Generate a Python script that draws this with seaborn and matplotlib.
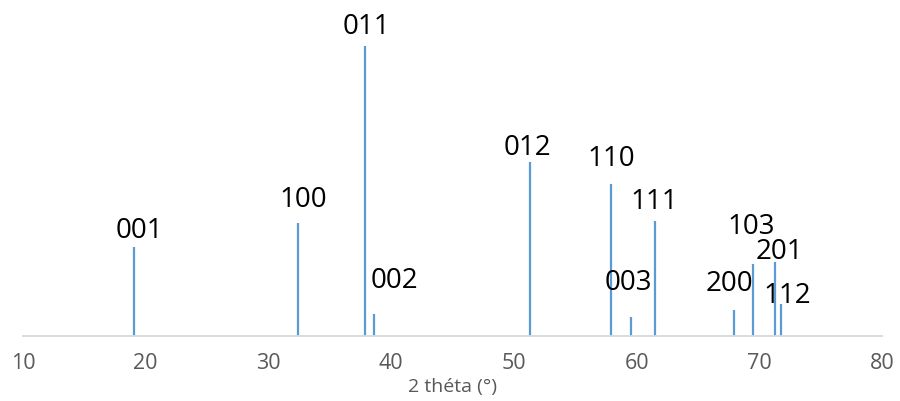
import pandas as pd
import seaborn as sns
import matplotlib.pyplot as plt

# peak positions (2 theta) and relative intensities
hkl = ['001', '100', '011', '002', '012', '110', '003', '111', '200', '103', '201', '112']
two_theta = [19.05, 32.45, 37.88, 38.6, 51.32, 57.9, 59.55, 61.53, 67.92, 69.5, 71.31, 71.78]
intensity = [30.7, 39.0, 100.0, 7.6, 60.0, 52.4, 6.4, 39.6, 9.0, 25.0, 25.5, 11.2]
x_ticks = [10, 20, 30, 40, 50, 60, 70, 80]

# label nudges in pixels (dx, gap above line top)
label_offsets = {
    '001': (5, 9), '100': (5, 16), '011': (1, 12), '002': (20, 26),
    '012': (-3, 7), '110': (0, 18), '003': (-3, 27), '111': (-1, 12),
    '200': (-4, 19), '103': (-2, 30), '201': (4, 3), '112': (6, 1),
}

df = pd.DataFrame({'hkl': hkl, 'two_theta': two_theta, 'intensity': intensity})

sns.set_theme(style='white')
plt.rcParams['font.family'] = ['Open Sans', 'DejaVu Sans']

fig = plt.figure(figsize=(9, 4.01), dpi=100)
ax = fig.add_axes([23 / 900, 65 / 401, 859 / 900, 336 / 401])

ax.vlines(df['two_theta'], 0, df['intensity'], color='#5B9BD5', linewidth=1.6)

for _, row in df.iterrows():
    dx, dy = label_offsets[row['hkl']]
    ax.annotate(row['hkl'], (row['two_theta'], row['intensity']),
                xytext=(dx, dy), textcoords='offset pixels',
                ha='center', va='baseline', fontsize=20, color='black',
                annotation_clip=False)

ax.set_xlim(10, 80)
ax.set_ylim(0, 115.9)
ax.set_xticks(x_ticks)
ax.set_yticks([])
ax.tick_params(axis='x', length=0, pad=12, labelsize=15.5, labelcolor='#595959')
ax.set_xlabel('2 théta (°)', fontsize=14, color='#595959', labelpad=3)

sns.despine(ax=ax, left=True)
ax.spines['bottom'].set_color('#D9D9D9')
ax.spines['bottom'].set_linewidth(1.3)

fig.savefig('out.png', dpi=100)
